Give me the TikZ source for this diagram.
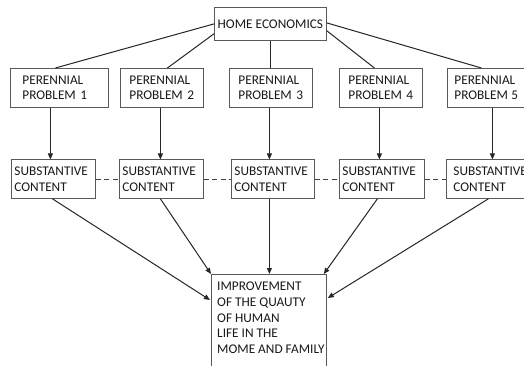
\documentclass[tikz,border=0pt]{standalone}
\usepackage{fontspec}
\setmainfont{Carlito}
\usetikzlibrary{arrows.meta,calc}
\begin{document}
\begin{tikzpicture}[x=1pt,y=-1pt,
  box/.style={draw=black!65, line width=0.8pt, fill=white, text=black!90,
    font=\fontsize{13.3}{15.5}\selectfont, anchor=north west},
  pbox/.style={box, minimum height=39pt, text width=65pt, inner xsep=9pt, align=left},
  sbox/.style={box, minimum height=38.5pt, text width=78pt, inner xsep=3pt, inner ysep=0pt, align=left},
  conn/.style={draw=black!85, line width=1pt},
  arr/.style={conn, -{Triangle[length=6pt,width=5pt]}},
  dsh/.style={draw=black!75, line width=1.3pt, dash pattern=on 5pt off 3.5pt}
]
\useasboundingbox (0,0) rectangle (524,366);
\clip (0,0) rectangle (524,366);
\fill[white] (0,0) rectangle (524,366);

% top
\node[box, minimum width=112pt, minimum height=33pt, inner sep=0pt, anchor=north west] (h) at (214,7) {HOME ECONOMICS};

% perennial problems
\node[pbox, text width=74pt, inner xsep=12pt] (p1) at (10,68) {PERENNIAL\\PROBLEM 1};
\node[pbox] (p2) at (120,68) {PERENNIAL\\PROBLEM 2};
\node[pbox] (p3) at (229,68) {PERENNIAL\\PROBLEM 3};
\node[pbox] (p4) at (339,68) {PERENNIAL\\PROBLEM 4};
\node[pbox, inner xsep=7pt, text width=76pt] (p5) at (447,68) {PERENNIAL\\PROBLEM\kern-1pt\ 5};

% substantive content
\node[sbox] (s1) at (11,159.5) {SUBSTANTIVE\\CONTENT};
\node[sbox] (s2) at (119,159.5) {SUBSTANTIVE\\CONTENT};
\node[sbox, text width=77pt] (s3) at (231,159.5) {SUBSTANTIVE\\CONTENT};
\node[sbox, text width=79pt] (s4) at (339,159.5) {SUBSTANTIVE\\CONTENT};
\node[sbox, inner xsep=7pt, text width=76pt] (s5) at (446,159.5) {SUBSTANTIVE\\CONTENT};

% bottom box
\node[box, minimum width=115pt, minimum height=100pt, inner sep=0pt] (imp) at (211,274) {};
\node[anchor=north west, inner sep=0pt, align=left, text=black!90,
  font=\fontsize{13.3}{15.7}\selectfont] (imptxt) at (217,282)
  {IMPROVEMENT\\OF THE QUAUTY\\OF HUMAN\\LIFE IN THE\\MOME AND FAMILY};

% home economics to perennial problems
\draw[conn] (h.west) -- ([xshift=-4pt]p1.north);
\draw[conn] ([yshift=7pt]h.south west) -- ([xshift=5.5pt]p2.north);
\draw[conn] (h.south) -- (h.south |- p3.north);
\draw[conn] ([yshift=10pt]h.south east) -- ([xshift=-6.5pt]p4.north);
\draw[conn] ([yshift=1pt]h.east) -- ([xshift=-11pt]p5.north);

% perennial to substantive
\draw[arr] ([xshift=-3pt]s1.north |- p1.south) -- ([xshift=-3pt]s1.north);
\draw[arr] ([xshift=-1pt]s2.north |- p2.south) -- ([xshift=-1pt]s2.north);
\draw[arr] ([xshift=-3.5pt]s3.north |- p3.south) -- ([xshift=-3.5pt]s3.north);
\draw[arr] ([xshift=-2.5pt]s4.north |- p4.south) -- ([xshift=-2.5pt]s4.north);
\draw[arr] ([xshift=1pt]s5.north |- p5.south) -- ([xshift=1pt]s5.north);

% dashed links
\draw[dsh] (s1.east) -- (s2.west);
\draw[dsh] (s2.east) -- (s3.west);
\draw[dsh] (s3.east) -- (s4.west);
\draw[dsh] (s4.east) -- (s5.west);

% substantive to improvement
\draw[arr] ([xshift=-1pt]s1.south) -- ([yshift=-26pt,xshift=-1pt]imp.north west);
\draw[arr] ([xshift=-1pt]s2.south) -- (imp.north west);
\draw[arr] ([xshift=-3.5pt]s3.south) -- ([xshift=-3.5pt]s3.south |- imp.north);
\draw[arr] ([xshift=-4.5pt]s4.south) -- ([xshift=-3pt]imp.north east);
\draw[arr] ([xshift=-3pt]s5.south) -- ([yshift=-24pt,xshift=1pt]imp.north east);
\end{tikzpicture}
\end{document}
